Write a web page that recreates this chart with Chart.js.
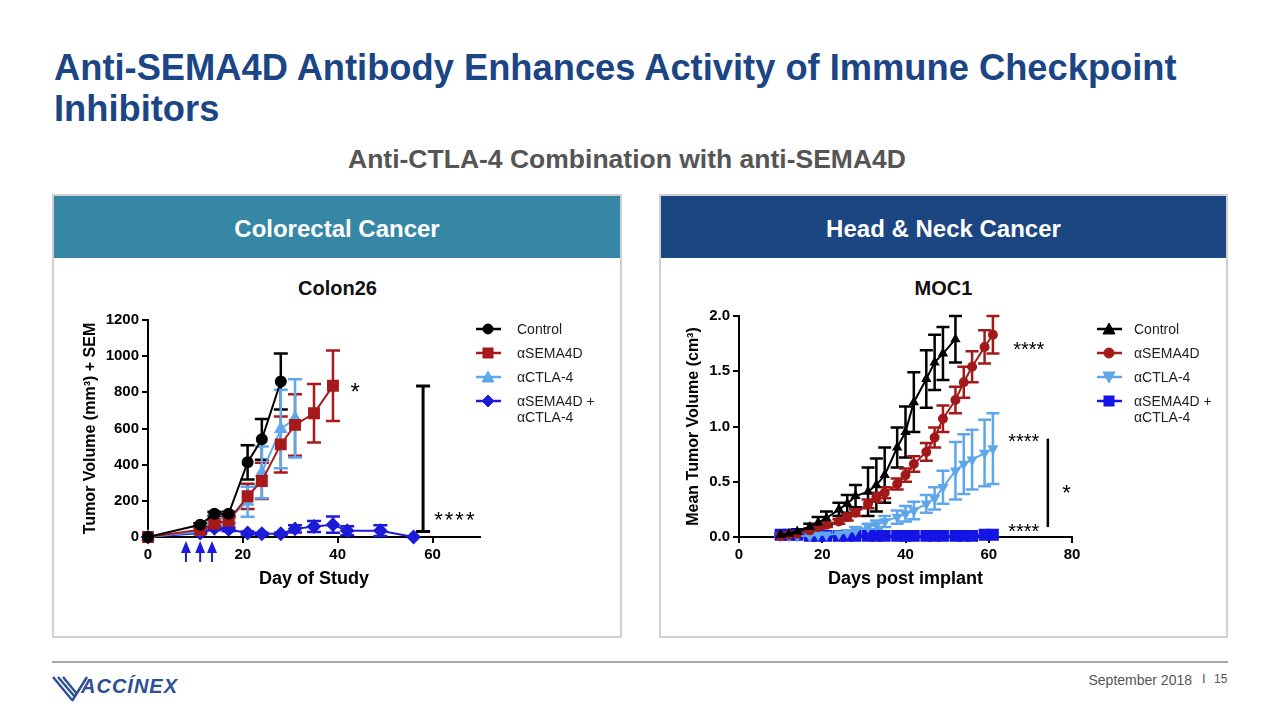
<!DOCTYPE html>
<html>
<head>
<meta charset="utf-8">
<title>Anti-SEMA4D Antibody Enhances Activity of Immune Checkpoint Inhibitors</title>
<script src="https://cdn.jsdelivr.net/npm/chart.js@4.4.1/dist/chart.umd.min.js"></script>
<style>
  body { margin: 0; width: 1280px; height: 720px; background: #fff; position: relative; overflow: hidden;
         font-family: "Liberation Sans", Arial, Helvetica, sans-serif; }
  .abs { position: absolute; }
  #title { left: 54px; top: 47px; width: 1200px; color: #1b4585; font-size: 36.3px; font-weight: bold; line-height: 41px; }
  #subtitle { left: 0; top: 144px; width: 1254px; text-align: center; color: #555; font-size: 26.5px; font-weight: bold; }
  .panel { top: 194px; height: 444px; border: 2px solid #d0d0d0; box-sizing: border-box; }
  .head { position: absolute; left: 0; top: 0; right: 0; height: 62px; color: #fff; font-size: 24px;
          font-weight: bold; text-align: center; line-height: 66px; }
  .ctitle { top: 276px; font-size: 20px; font-weight: bold; text-align: center; color: #111; line-height: 24px; }
  .row { position: absolute; font-size: 14px; color: #222; line-height: 16px; }
  .row svg { position: absolute; left: 0; top: 0; }
  .row span { position: absolute; white-space: nowrap; }
  #footline { left: 52px; top: 661px; width: 1176px; height: 2px; background: #a8a8a8; }
  #date { left: 1060px; width: 132px; top: 672px; text-align: right; font-size: 14px; color: #555; }
  #sep { left: 1202px; top: 671px; font-size: 13px; color: #555; }
  #page { left: 1214px; top: 672px; font-size: 12px; color: #555; }
  #logo { left: 81px; top: 675px; font-size: 20px; font-style: italic; font-weight: bold; letter-spacing: 1px; color: #2c4f95; }
</style>
</head>
<body>
<div id="title" class="abs">Anti-SEMA4D Antibody Enhances Activity of Immune Checkpoint<br>Inhibitors</div>
<div id="subtitle" class="abs">Anti-CTLA-4 Combination with anti-SEMA4D</div>

<div class="abs panel" style="left:52px;width:570px;"><div class="head" style="background:#3687a6;">Colorectal Cancer</div></div>
<div class="abs panel" style="left:659px;width:569px;"><div class="head" style="background:#1b4682;">Head &amp; Neck Cancer</div></div>

<div class="abs ctitle" style="left:52px;width:571px;">Colon26</div>
<div class="abs ctitle" style="left:659px;width:569px;">MOC1</div>

<canvas id="colon" class="abs" width="440" height="330" style="left:60px;top:270px;"></canvas>
<canvas id="moc" class="abs" width="430" height="330" style="left:670px;top:270px;"></canvas>

<div id="legendColon"></div>
<div id="legendMoc"></div>

<div id="footline" class="abs"></div>
<svg class="abs" style="left:50px;top:674px;" width="40" height="30">
  <g stroke="#2c4f95" stroke-width="2.4" fill="none">
    <line x1="3" y1="3" x2="22" y2="26"/>
    <line x1="8" y1="3" x2="25" y2="23"/>
    <line x1="13" y1="3" x2="27" y2="20"/>
    <line x1="22" y1="27" x2="37" y2="3"/>
  </g>
</svg>
<div id="logo" class="abs">ACCÍNEX</div>
<div id="date" class="abs">September 2018</div>
<div id="sep" class="abs">I</div>
<div id="page" class="abs">15</div>

<script>
// ---- Colon26 (Day of Study, tumor volume mm3, SEM) ----
const colonLabels = ['Control', 'αSEMA4D', 'αCTLA-4', 'αSEMA4D +\nαCTLA-4'];
const colonDaysControl = [0, 11, 14, 17, 21, 24, 28];
const colonControl     = [0, 68, 128, 128, 413, 540, 860];
const colonControlSem  = [0, 8, 12, 12, 95, 113, 155];
const colonDaysSema = [0, 11, 14, 17, 21, 24, 28, 31, 35, 39];
const colonSema     = [0, 40, 75, 90, 225, 310, 512, 620, 684, 836];
const colonSemaSem  = [0, 8, 15, 15, 70, 100, 155, 170, 162, 195];
const colonDaysCtla = [0, 11, 14, 17, 21, 24, 28, 31];
const colonCtla     = [0, 30, 100, 105, 195, 357, 597, 656];
const colonCtlaSem  = [0, 8, 25, 25, 83, 143, 217, 217];
const colonDaysCombo = [0, 11, 14, 17, 21, 24, 28, 31, 35, 39, 42, 49, 56];
const colonCombo     = [0, 22, 48, 42, 22, 18, 18, 45, 58, 68, 35, 35, 0];
const colonComboSem  = [0, 5, 10, 10, 8, 5, 5, 20, 30, 45, 25, 30, 0];
const colonDosingDays = [8, 11, 13.5];

// ---- MOC1 (days post implant, mean tumor volume cm3, SEM) ----
const mocLabels = ['Control', 'αSEMA4D', 'αCTLA-4', 'αSEMA4D +\nαCTLA-4'];
const mocDays = [10, 12, 14, 17, 19, 21, 24, 26, 28, 31, 33, 35, 38, 40, 42, 45, 47, 49, 52, 54, 56, 59, 61];
const mocControl    = [0.02, 0.03, 0.05, 0.09, 0.13, 0.17, 0.25, 0.30, 0.37, 0.41, 0.47, 0.56, 0.81, 0.95, 1.22, 1.43, 1.58, 1.66, 1.79];
const mocControlSem = [0.01, 0.01, 0.02, 0.03, 0.05, 0.06, 0.06, 0.08, 0.10, 0.22, 0.24, 0.25, 0.18, 0.23, 0.27, 0.26, 0.25, 0.24, 0.21];
const mocSema    = [0.01, 0.02, 0.03, 0.06, 0.09, 0.11, 0.14, 0.18, 0.22, 0.30, 0.36, 0.40, 0.48, 0.56, 0.66, 0.77, 0.90, 1.07, 1.24, 1.40, 1.54, 1.72, 1.83];
const mocSemaSem = [0.01, 0.01, 0.01, 0.02, 0.02, 0.02, 0.02, 0.03, 0.03, 0.04, 0.04, 0.05, 0.05, 0.06, 0.07, 0.08, 0.09, 0.12, 0.12, 0.14, 0.14, 0.15, 0.17];
const mocCtla    = [0.01, 0.01, 0.01, 0.01, 0.02, 0.02, 0.03, 0.04, 0.06, 0.09, 0.11, 0.14, 0.18, 0.21, 0.24, 0.30, 0.35, 0.45, 0.60, 0.66, 0.70, 0.76, 0.80];
const mocCtlaSem = [0.01, 0.01, 0.01, 0.01, 0.01, 0.01, 0.02, 0.02, 0.03, 0.03, 0.04, 0.05, 0.06, 0.07, 0.08, 0.08, 0.10, 0.15, 0.26, 0.27, 0.27, 0.30, 0.32];
const mocCombo    = [0.02, 0.02, 0.02, 0.01, 0.01, 0.01, 0.01, 0.01, 0.01, 0.01, 0.01, 0.01, 0.01, 0.01, 0.01, 0.01, 0.01, 0.01, 0.01, 0.01, 0.01, 0.02, 0.02];
// SEM of the combination group is smaller than its symbol, no bar is visible
const mocComboSem = [0, 0, 0, 0, 0, 0, 0, 0, 0, 0, 0, 0, 0, 0, 0, 0, 0, 0, 0, 0, 0, 0, 0];

const FONT = '"Liberation Sans", Arial, Helvetica, sans-serif';
Chart.defaults.font.family = FONT;
Chart.defaults.color = '#000';

// vertical SEM bars with caps, drawn under the lines
const errorBars = {
    id: 'errorBars',
    beforeDatasetsDraw( chart, args, opts ) {
        const { ctx, scales: { x, y } } = chart;
        ctx.save();
        ctx.lineWidth = opts.width;
        chart.data.datasets.forEach( ds => {
            ctx.strokeStyle = ds.borderColor;
            ds.data.forEach( ( p, i ) => {
                const e = ds.errors[i];
                if ( !e ) return;
                const px = x.getPixelForValue( p.x );
                const hi = y.getPixelForValue( p.y + e );
                const lo = y.getPixelForValue( Math.max( p.y - e, 0 ) );
                ctx.beginPath();
                ctx.moveTo( px, hi ); ctx.lineTo( px, lo );
                ctx.moveTo( px - opts.cap, hi ); ctx.lineTo( px + opts.cap, hi );
                ctx.moveTo( px - opts.cap, lo ); ctx.lineTo( px + opts.cap, lo );
                ctx.stroke();
            } );
        } );
        ctx.restore();
    }
};

// significance marks, brackets and dosing arrows
const notes = {
    id: 'notes',
    afterDatasetsDraw( chart, args, opts ) {
        const { ctx, scales: { x, y } } = chart;
        ctx.save();
        ctx.fillStyle = '#000';
        ctx.strokeStyle = '#000';
        ( opts.brackets || [] ).forEach( b => {
            const px = x.getPixelForValue( b.x );
            const a = y.getPixelForValue( b.from ), c = y.getPixelForValue( b.to );
            ctx.lineWidth = b.width;
            ctx.beginPath();
            ctx.moveTo( px, a ); ctx.lineTo( px, c );
            if ( b.cap ) {
                ctx.moveTo( px - b.cap, a ); ctx.lineTo( px + b.cap, a );
                ctx.moveTo( px - b.cap, c ); ctx.lineTo( px + b.cap, c );
            }
            ctx.stroke();
        } );
        ( opts.stars || [] ).forEach( s => {
            ctx.font = s.size + 'px ' + FONT;
            ctx.letterSpacing = ( s.spacing || 0 ) + 'px';
            ctx.textAlign = 'center';
            ctx.textBaseline = 'middle';
            ctx.fillText( s.text, x.getPixelForValue( s.x ), y.getPixelForValue( s.y ) + s.size * 0.25 );
        } );
        ctx.letterSpacing = '0px';
        if ( opts.arrows ) {
            ctx.fillStyle = opts.arrowColor;
            ctx.strokeStyle = opts.arrowColor;
            ctx.lineWidth = 2;
            const base = chart.chartArea.bottom;
            opts.arrows.forEach( d => {
                const px = x.getPixelForValue( d );
                ctx.beginPath();
                ctx.moveTo( px, base + 4 ); ctx.lineTo( px + 5, base + 16 ); ctx.lineTo( px - 5, base + 16 );
                ctx.closePath();
                ctx.fill();
                ctx.beginPath();
                ctx.moveTo( px, base + 14 ); ctx.lineTo( px, base + 25 );
                ctx.stroke();
            } );
        }
        ctx.restore();
    }
};

function series( label, days, values, errors, color, style, radius, rotation ) {
    return {
        label, errors,
        data: values.map( ( v, i ) => ( { x: days[i], y: v } ) ),
        borderColor: color,
        backgroundColor: color,
        pointStyle: style,
        pointRadius: radius,
        pointRotation: rotation || 0,
        borderWidth: 2,
        tension: 0,
        clip: false
    };
}

function axis( min, max, step, decimals, size, title, titlePad, extra ) {
    return Object.assign( {
        type: 'linear', min, max,
        ticks: { stepSize: step, includeBounds: false, padding: 3, color: '#000',
                 font: { size: 15, weight: 'bold' },
                 callback: v => v.toFixed( decimals ) },
        grid: { drawOnChartArea: false, drawTicks: true, tickLength: 6, color: '#000', lineWidth: 2 },
        border: { display: true, color: '#000', width: 2 },
        title: { display: true, text: title, color: '#000', font: { size: size, weight: 'bold' }, padding: titlePad }
    }, extra );
}

const colonColors = ['#000000', '#a8191b', '#5fa8ec', '#1c1cd8'];
const colonStyles = ['circle', 'rect', 'triangle', 'rectRot'];
new Chart( document.getElementById( 'colon' ), {
    type: 'line',
    data: {
        datasets: [
            series( 'Control', colonDaysControl, colonControl, colonControlSem, colonColors[0], 'circle', 5 ),
            series( 'αSEMA4D', colonDaysSema, colonSema, colonSemaSem, colonColors[1], 'rect', 7 ),
            series( 'αCTLA-4', colonDaysCtla, colonCtla, colonCtlaSem, colonColors[2], 'triangle', 6 ),
            series( 'αSEMA4D + αCTLA-4', colonDaysCombo, colonCombo, colonComboSem, colonColors[3], 'rectRot', 6 )
        ]
    },
    options: {
        responsive: false,
        animation: false,
        layout: { padding: { top: 50, right: 20, left: 0, bottom: 0 } },
        scales: {
            x: axis( 0, 70, 20, 0, 18, 'Day of Study', { bottom: 10 },
                { afterFit: s => { s.height = 63; } } ),
            y: axis( 0, 1200, 200, 0, 16, 'Tumor Volume (mm³) + SEM', { top: 21 },
                { afterFit: s => { s.width = 88; } } )
        },
        plugins: {
            legend: { display: false },
            tooltip: { enabled: false },
            errorBars: { width: 2.5, cap: 7 },
            notes: {
                brackets: [ { x: 58, from: 30, to: 835, width: 3, cap: 7 } ],
                stars: [
                    { text: '*', x: 43.7, y: 830, size: 24 },
                    { text: '****', x: 64.8, y: 120, size: 22, spacing: 2 }
                ],
                arrows: colonDosingDays,
                arrowColor: '#1c1cd8'
            }
        }
    },
    plugins: [ errorBars, notes ]
} );

const mocColors = ['#000000', '#a31818', '#5fa6ea', '#1414e6'];
const mocStyles = ['triangle', 'circle', 'triangleDown', 'rect'];
new Chart( document.getElementById( 'moc' ), {
    type: 'line',
    data: {
        datasets: [
            series( 'Control', mocDays, mocControl, mocControlSem, mocColors[0], 'triangle', 4 ),
            series( 'αSEMA4D', mocDays, mocSema, mocSemaSem, mocColors[1], 'circle', 4 ),
            series( 'αCTLA-4', mocDays, mocCtla, mocCtlaSem, mocColors[2], 'triangle', 4.5, 180 ),
            series( 'αSEMA4D + αCTLA-4', mocDays, mocCombo, mocComboSem, mocColors[3], 'rect', 7 )
        ]
    },
    options: {
        responsive: false,
        animation: false,
        layout: { padding: { top: 46, right: 28, left: 0, bottom: 0 } },
        scales: {
            x: axis( 0, 80, 20, 0, 18, 'Days post implant', { bottom: 10 },
                { afterFit: s => { s.height = 63; } } ),
            y: axis( 0, 2, 0.5, 1, 16, 'Mean Tumor Volume (cm³)', { top: 14 },
                { afterFit: s => { s.width = 69; } } )
        },
        plugins: {
            legend: { display: false },
            tooltip: { enabled: false },
            errorBars: { width: 2.5, cap: 6.5 },
            notes: {
                brackets: [ { x: 74.2, from: 0.09, to: 0.89, width: 2.5 } ],
                stars: [
                    { text: '****', x: 69.6, y: 1.73, size: 20 },
                    { text: '****', x: 68.4, y: 0.90, size: 20 },
                    { text: '****', x: 68.4, y: 0.09, size: 20 },
                    { text: '*', x: 78.7, y: 0.44, size: 22 }
                ]
            }
        }
    },
    plugins: [ errorBars, notes ]
} );

// legends as plain html, one row per series
const shapes = {
    circle: '<circle cx="12" cy="8" r="5"/>',
    rect: '<rect x="7" y="3" width="10" height="10"/>',
    triangle: '<polygon points="12,2 18,13 6,13"/>',
    triangleDown: '<polygon points="6,3 18,3 12,14"/>',
    rectRot: '<polygon points="12,2 18,8 12,14 6,8"/>'
};
function drawLegend( id, left, textLeft, labels, colors, styles ) {
    const box = document.getElementById( id );
    labels.forEach( ( lab, i ) => {
        const row = document.createElement( 'div' );
        row.className = 'row';
        row.style.left = left + 'px';
        row.style.top = ( 321 + 24 * i ) + 'px';
        row.innerHTML =
            '<svg width="25" height="16"><g fill="' + colors[i] + '" stroke="' + colors[i] + '">' +
            '<line x1="0" y1="8" x2="25" y2="8" stroke-width="2.5"/>' + shapes[styles[i]] + '</g></svg>' +
            '<span style="left:' + ( textLeft - left ) + 'px;top:0">' + lab.replace( '\n', '<br>' ) + '</span>';
        box.appendChild( row );
    } );
}
drawLegend( 'legendColon', 476, 517, colonLabels, colonColors, colonStyles );
drawLegend( 'legendMoc', 1097, 1134, mocLabels, mocColors, mocStyles );
</script>
</body>
</html>
